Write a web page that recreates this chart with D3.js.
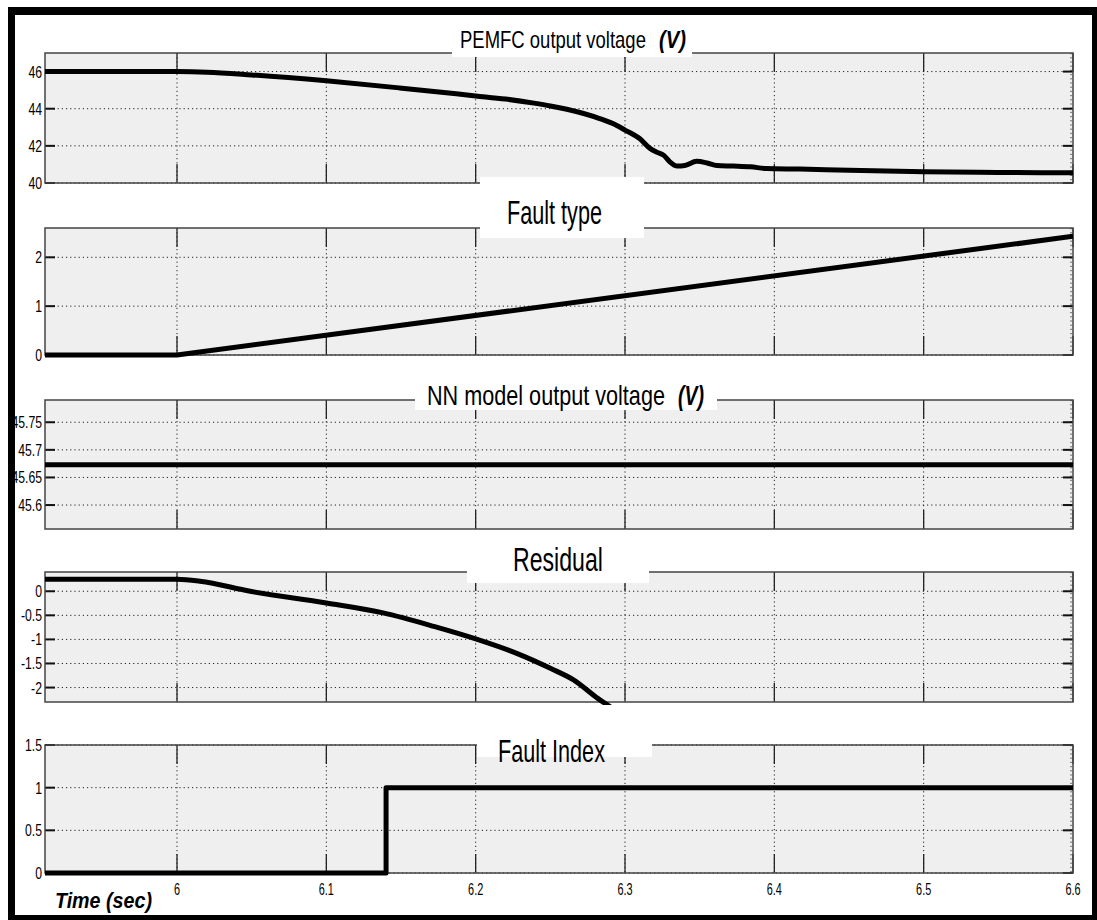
<!DOCTYPE html>
<html><head><meta charset="utf-8">
<script src="https://cdn.jsdelivr.net/npm/d3@7"></script>
<style>body{margin:0;background:#fff} svg{display:block}</style>
</head><body><svg id="c" width="1097" height="920"></svg>
<script>
// ---------- data ----------
const xDomain = [5.9116, 6.6];
const xTicks = [6, 6.1, 6.2, 6.3, 6.4, 6.5, 6.6];
const xTickLabels = ["6", "6.1", "6.2", "6.3", "6.4", "6.5", "6.6"];

const pemfcTime = [5.9116, 6.0, 6.02, 6.05, 6.1, 6.149, 6.2, 6.22, 6.239, 6.25, 6.261, 6.283, 6.2945, 6.300, 6.310, 6.317, 6.321, 6.326, 6.330, 6.335, 6.340, 6.348, 6.355, 6.3615, 6.3725, 6.384, 6.395, 6.417, 6.45, 6.5, 6.55, 6.6];
const pemfcVolt = [46.0, 46.0, 45.97, 45.82, 45.5, 45.12, 44.69, 44.52, 44.3, 44.15, 43.97, 43.47, 43.1, 42.85, 42.38, 41.85, 41.67, 41.49, 41.14, 40.91, 40.94, 41.17, 41.08, 40.94, 40.91, 40.87, 40.78, 40.75, 40.68, 40.61, 40.57, 40.55];
const pemfcTicks = [40, 42, 44, 46];

const faultTypeTime = [5.9116, 6.0, 6.6];
const faultTypeVal = [0, 0, 2.43];
const faultTypeTicks = [0, 1, 2];

const nnTime = [5.9116, 6.6];
const nnVolt = [45.673, 45.673];
const nnTicks = [45.6, 45.65, 45.7, 45.75];

const residualTime = [5.9116, 6.0, 6.0154, 6.049, 6.1, 6.138, 6.172, 6.2, 6.2275, 6.25, 6.2655, 6.282, 6.295];
const residualVal = [0.25, 0.25, 0.21, 0.0, -0.243, -0.45, -0.73, -0.99, -1.29, -1.60, -1.84, -2.23, -2.5];
const residualTicks = [-2, -1.5, -1, -0.5, 0];

const faultIndexTime = [5.9116, 6.14, 6.14, 6.6];
const faultIndexVal = [0, 0, 1, 1];
const faultIndexTicks = [0, 0.5, 1, 1.5];

// ---------- drawing ----------
const svg = d3.select("#c");
const FONT = "'Liberation Sans', Arial, sans-serif";

svg.append("rect").attr("x", 8).attr("y", 7).attr("width", 1089).attr("height", 913).attr("fill", "#000");
svg.append("rect").attr("x", 15).attr("y", 15).attr("width", 1077).attr("height", 900).attr("fill", "#fff");

const x = d3.scaleLinear().domain(xDomain).range([45, 1073]);

const panels = [
  {top: 53, bottom: 183, dom: [40, 47], ticks: pemfcTicks, t: pemfcTime, v: pemfcVolt, smooth: true},
  {top: 228, bottom: 355, dom: [0, 2.6], ticks: faultTypeTicks, t: faultTypeTime, v: faultTypeVal},
  {top: 400, bottom: 529, dom: [45.5566, 45.7903], ticks: nnTicks, t: nnTime, v: nnVolt},
  {top: 572, bottom: 702, dom: [-2.3, 0.4], ticks: residualTicks, t: residualTime, v: residualVal, smooth: true},
  {top: 745, bottom: 873, dom: [0, 1.5], ticks: faultIndexTicks, t: faultIndexTime, v: faultIndexVal}
];

function scaledText(g, px, py, str, size, sx, anchor) {
  return g.append("text")
    .attr("transform", `translate(${px},${py}) scale(${sx},1)`)
    .attr("text-anchor", anchor)
    .attr("font-family", FONT)
    .attr("font-size", size)
    .attr("fill", "#000")
    .text(str);
}

panels.forEach((p, i) => {
  const g = svg.append("g");
  const y = d3.scaleLinear().domain(p.dom).range([p.bottom, p.top]);
  const [x0, x1] = x.range();
  g.append("rect").attr("x", x0).attr("y", p.top).attr("width", x1 - x0).attr("height", p.bottom - p.top)
    .attr("fill", "#efefef");
  g.selectAll(".hg").data(p.ticks).join("line")
    .attr("x1", x0).attr("x2", x1).attr("y1", d => y(d)).attr("y2", d => y(d))
    .attr("stroke", "#222").attr("stroke-width", 1).attr("stroke-dasharray", "1.2,3");
  g.selectAll(".vg").data(xTicks).join("line")
    .attr("x1", d => x(d) - (d === 6.6 ? 2 : 0)).attr("x2", d => x(d) - (d === 6.6 ? 2 : 0))
    .attr("y1", p.top).attr("y2", p.bottom)
    .attr("stroke", "#222").attr("stroke-width", 1).attr("stroke-dasharray", "1.2,3");
  xTicks.forEach(d => {
    g.append("line").attr("x1", x(d)).attr("x2", x(d)).attr("y1", p.top).attr("y2", p.top + 19)
      .attr("stroke", "#222").attr("stroke-width", 1.3);
    g.append("line").attr("x1", x(d)).attr("x2", x(d)).attr("y1", p.bottom).attr("y2", p.bottom - 19)
      .attr("stroke", "#222").attr("stroke-width", 1.3);
  });
  p.ticks.forEach(d => {
    g.append("line").attr("x1", x0).attr("x2", x0 + 10).attr("y1", y(d)).attr("y2", y(d))
      .attr("stroke", "#111").attr("stroke-width", 2);
    g.append("line").attr("x1", x1).attr("x2", x1 - 10).attr("y1", y(d)).attr("y2", y(d))
      .attr("stroke", "#111").attr("stroke-width", 2);
  });
  g.append("rect").attr("x", x0).attr("y", p.top).attr("width", x1 - x0).attr("height", p.bottom - p.top)
    .attr("fill", "none").attr("stroke", "#444").attr("stroke-width", 1.5);
  p.ticks.forEach(d => {
    scaledText(g, 42, y(d) + 6, String(d), 17, 0.72, "end");
  });
  const cid = "clip" + i;
  svg.append("clipPath").attr("id", cid).append("rect")
    .attr("x", x0).attr("y", p.top - 3).attr("width", x1 - x0).attr("height", p.bottom - p.top + 6);
  const pts = p.t.map((t, k) => [t, p.v[k]]);
  const line = d3.line().x(d => x(d[0])).y(d => y(d[1]))
    .curve(p.smooth ? d3.curveMonotoneX : d3.curveLinear);
  g.append("path").attr("d", line(pts)).attr("clip-path", `url(#${cid})`)
    .attr("fill", "none").attr("stroke", "#000").attr("stroke-width", 5)
    .attr("stroke-linejoin", "round").attr("stroke-linecap", "butt");
});

const gx = svg.append("g");
xTicks.forEach((d, k) => scaledText(gx, x(d), 895, xTickLabels[k], 16, 0.68, "middle"));

// titles with white boxes; text horizontally scaled to fit measured width
function box(bx, by, bw, bh) {
  svg.append("rect").attr("x", bx).attr("y", by).attr("width", bw).attr("height", bh).attr("fill", "#fff");
}
function fitText(px, py, str, size, width, bold, italic) {
  const t = svg.append("text")
    .attr("font-family", FONT).attr("font-size", size)
    .attr("font-weight", bold ? "bold" : "normal")
    .attr("font-style", italic ? "italic" : "normal")
    .attr("fill", "#000").text(str);
  const w = t.node().getComputedTextLength();
  t.attr("transform", `translate(${px},${py}) scale(${width / w},1)`);
}
box(452, 17, 240, 40);
fitText(460, 48, "PEMFC output voltage", 23, 186, false, false);
fitText(659, 48, "(V)", 23, 27, true, true);

box(480, 177, 164, 61);
fitText(507, 224, "Fault type", 33, 95, false, false);

box(415, 366, 302, 44);
fitText(427, 405, "NN model output voltage", 27, 238, false, false);
fitText(678, 405, "(V)", 27, 26, true, true);

box(467, 538, 182, 45);
fitText(513, 571, "Residual", 34, 90, false, false);

box(477, 722, 175, 35);
fitText(498, 762, "Fault Index", 32, 107, false, false);

fitText(55, 908, "Time (sec)", 22, 97, true, true);
</script>
</body></html>
